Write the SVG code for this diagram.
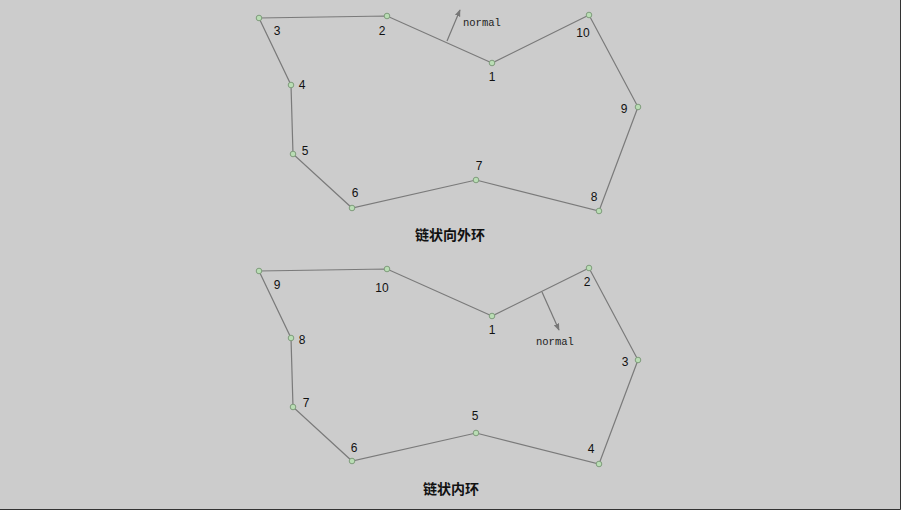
<svg xmlns="http://www.w3.org/2000/svg" width="901" height="510" viewBox="0 0 901 510">
<defs>
<marker id="arr" viewBox="0 0 10 10" refX="9" refY="5" markerWidth="7" markerHeight="7" orient="auto" markerUnits="userSpaceOnUse">
<path d="M0,1 L10,5 L0,9 z" fill="#777"/>
</marker>
</defs>
<style>
.edge{fill:none;stroke:#7a7a7a;stroke-width:1.2}
.node circle{fill:#b9ddb4;stroke:#7f9c7c;stroke-width:1}
.lbl{font-family:"Liberation Sans",Arial,sans-serif;font-size:12px;fill:#111;text-anchor:middle}
.nrm{font-family:"Liberation Mono","DejaVu Sans Mono",monospace;font-size:10.5px;fill:#222}
.title{font-family:"Noto Sans CJK SC",sans-serif;font-size:14px;font-weight:bold;fill:#111;text-anchor:middle}
.vec{stroke:#777;stroke-width:1.2;fill:none}
</style>
<rect x="0" y="0" width="901" height="510" fill="#cccccc"/>
<path d="M900.5,0 V509.5 H0" fill="none" stroke="#333" stroke-width="1"/>
<g id="connectors">
<polygon class="edge" points="492,63 387,16 259,18 291,85 293,154 352,208 476,180 599,211 638,107 589,15"/>
<line class="vec" x1="447" y1="41" x2="460" y2="10" marker-end="url(#arr)"/>
<polygon class="edge" points="492,316 387,269 259,271 291,338 293,407 352,461 476,433 599,464 638,360 589,268"/>
<line class="vec" x1="542" y1="292" x2="559" y2="330" marker-end="url(#arr)"/>
</g>
<g id="outer-ring">
<g id="o1" class="node"><circle cx="492" cy="63" r="2.8"/><text class="lbl" x="492" y="81">1</text></g>
<g id="o2" class="node"><circle cx="387" cy="16" r="2.8"/><text class="lbl" x="382" y="35">2</text></g>
<g id="o3" class="node"><circle cx="259" cy="18" r="2.8"/><text class="lbl" x="277" y="35">3</text></g>
<g id="o4" class="node"><circle cx="291" cy="85" r="2.8"/><text class="lbl" x="302" y="89">4</text></g>
<g id="o5" class="node"><circle cx="293" cy="154" r="2.8"/><text class="lbl" x="305" y="155">5</text></g>
<g id="o6" class="node"><circle cx="352" cy="208" r="2.8"/><text class="lbl" x="355" y="197">6</text></g>
<g id="o7" class="node"><circle cx="476" cy="180" r="2.8"/><text class="lbl" x="479" y="170">7</text></g>
<g id="o8" class="node"><circle cx="599" cy="211" r="2.8"/><text class="lbl" x="594" y="201">8</text></g>
<g id="o9" class="node"><circle cx="638" cy="107" r="2.8"/><text class="lbl" x="624" y="113">9</text></g>
<g id="o10" class="node"><circle cx="589" cy="15" r="2.8"/><text class="lbl" x="583" y="37">10</text></g>
<text class="nrm" x="463" y="26">normal</text>
<text class="title" x="450" y="240">链状向外环</text>
</g>
<g id="inner-ring">
<g id="i1" class="node"><circle cx="492" cy="316" r="2.8"/><text class="lbl" x="492" y="334">1</text></g>
<g id="i10" class="node"><circle cx="387" cy="269" r="2.8"/><text class="lbl" x="382" y="292">10</text></g>
<g id="i9" class="node"><circle cx="259" cy="271" r="2.8"/><text class="lbl" x="277" y="289">9</text></g>
<g id="i8" class="node"><circle cx="291" cy="338" r="2.8"/><text class="lbl" x="302" y="344">8</text></g>
<g id="i7" class="node"><circle cx="293" cy="407" r="2.8"/><text class="lbl" x="306" y="407">7</text></g>
<g id="i6" class="node"><circle cx="352" cy="461" r="2.8"/><text class="lbl" x="354" y="452">6</text></g>
<g id="i5" class="node"><circle cx="476" cy="433" r="2.8"/><text class="lbl" x="475" y="420">5</text></g>
<g id="i4" class="node"><circle cx="599" cy="464" r="2.8"/><text class="lbl" x="591" y="453">4</text></g>
<g id="i3" class="node"><circle cx="638" cy="360" r="2.8"/><text class="lbl" x="625" y="366">3</text></g>
<g id="i2" class="node"><circle cx="589" cy="268" r="2.8"/><text class="lbl" x="587" y="286">2</text></g>
<text class="nrm" x="536" y="345">normal</text>
<text class="title" x="451" y="494">链状内环</text>
</g>
</svg>
